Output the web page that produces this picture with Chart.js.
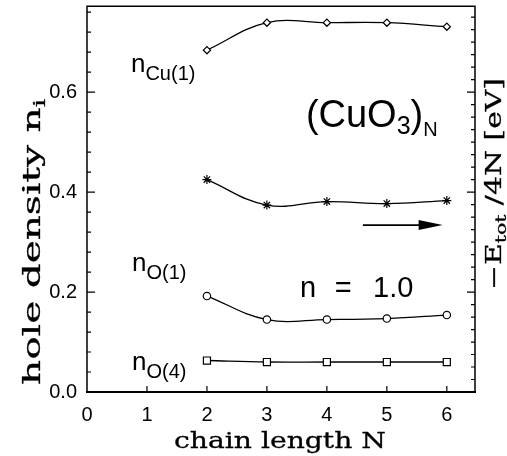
<!DOCTYPE html>
<html>
<head>
<meta charset="utf-8">
<title>hole density vs chain length</title>
<script src="https://cdn.jsdelivr.net/npm/chart.js@4.4.0/dist/chart.umd.min.js"></script>
<style>
html, body { margin: 0; padding: 0; background: #fff; }
#wrap { width: 507px; height: 456px; }
</style>
</head>
<body>
<div id="wrap"><canvas id="holeChart" width="507" height="456"></canvas></div>
<script>
// ---------- data ----------
const chainLength = [2, 3, 4, 5, 6];
const nCu1 = [0.684, 0.739, 0.739, 0.739, 0.731];
const energy = [0.425, 0.374, 0.381, 0.377, 0.383];   // drawn against the right axis
const nO1 = [0.192, 0.145, 0.145, 0.147, 0.154];
const nO4 = [0.063, 0.060, 0.060, 0.060, 0.060];

const xRange = [0, 6.47];
const yRange = [0, 0.772];
const yMajorStep = 0.2;
const yMinorStep = 0.04;
const rightMinorStep = 0.025;

const SANS = '"Liberation Sans", Arial, sans-serif';
const SERIF = '"DejaVu Serif", "Liberation Serif", serif';

function pts(ys) {
    return chainLength.map((x, i) => ({ x: x, y: ys[i] }));
}

function series(ys, style, radius, axis) {
    return {
        data: pts(ys),
        yAxisID: axis || 'y',
        borderColor: '#000',
        borderWidth: 1.3,
        tension: 0.4,
        pointStyle: style,
        pointRadius: radius,
        pointBorderWidth: 1.2,
        pointBorderColor: '#000',
        pointBackgroundColor: '#fff'
    };
}

// no extra room for edge labels, the plot box is fixed by the layout padding
function noPadding(s) {
    s.paddingTop = 0;
    s.paddingBottom = 0;
    s.paddingLeft = 0;
    s.paddingRight = 0;
}

// ---------- text helpers ----------
function runsWidth(ctx, runs) {
    let w = 0;
    runs.forEach(r => { ctx.font = r.font; w += ctx.measureText(r.text).width; });
    return w;
}

function drawRuns(ctx, x, y, runs, outline) {
    let cx = x;
    runs.forEach(r => {
        ctx.font = r.font;
        ctx.fillText(r.text, cx, y + (r.dy || 0));
        if (outline) ctx.strokeText(r.text, cx, y + (r.dy || 0));
        cx += ctx.measureText(r.text).width;
    });
}

// axis titles are stretched to a fixed length and slightly emboldened
function drawTitle(ctx, cx, cy, angle, length, runs) {
    const w = runsWidth(ctx, runs);
    ctx.save();
    ctx.translate(cx, cy);
    ctx.rotate(angle);
    ctx.scale(length / w, 1);
    ctx.lineWidth = 0.3;
    ctx.lineJoin = 'round';
    drawRuns(ctx, -w / 2, 0, runs, true);
    ctx.restore();
}

// ---------- frame, inward ticks, labels ----------
const framePlugin = {
    id: 'framePlugin',
    afterDraw(chart) {
        const { ctx, chartArea: a, scales } = chart;
        const xs = scales.x, ys = scales.y, y2 = scales.y2;

        ctx.save();
        ctx.strokeStyle = '#000';
        ctx.fillStyle = '#000';

        // box
        ctx.lineWidth = 1.5;
        ctx.beginPath();
        ctx.moveTo(a.left, a.bottom);
        ctx.lineTo(a.left, a.top);
        ctx.lineTo(a.right, a.top);
        ctx.lineTo(a.right, a.bottom);
        ctx.stroke();
        ctx.lineWidth = 2;
        ctx.beginPath();
        ctx.moveTo(a.left - 1, a.bottom);
        ctx.lineTo(a.right + 1, a.bottom);
        ctx.stroke();

        ctx.lineWidth = 1.2;
        ctx.beginPath();
        // bottom ticks
        for (let v = 1; v <= 6; v++) {
            const px = xs.getPixelForValue(v);
            ctx.moveTo(px, a.bottom);
            ctx.lineTo(px, a.bottom - 6);
        }
        // left ticks
        for (let k = 1; k * yMinorStep < yRange[1]; k++) {
            const v = k * yMinorStep;
            const major = Math.round(v * 1000) % Math.round(yMajorStep * 1000) === 0;
            const py = ys.getPixelForValue(v);
            ctx.moveTo(a.left, py);
            ctx.lineTo(a.left + (major ? 8 : 4), py);
        }
        // right ticks
        for (let k = 1; k * rightMinorStep < yRange[1]; k++) {
            const v = k * rightMinorStep;
            const major = Math.round(v * 1000) % Math.round(yMajorStep * 1000) === 0;
            const py = y2.getPixelForValue(v);
            ctx.moveTo(a.right, py);
            ctx.lineTo(a.right - (major ? 8 : 4), py);
        }
        ctx.stroke();

        // curve labels
        ctx.textAlign = 'left';
        ctx.textBaseline = 'alphabetic';
        const at = (x, y) => [xs.getPixelForValue(x), ys.getPixelForValue(y)];

        let p = at(0.733, 0.64);
        drawRuns(ctx, p[0], p[1], [
            { text: 'n', font: '26px ' + SANS },
            { text: 'Cu(1)', font: '20px ' + SANS, dy: 8 }
        ]);
        p = at(0.75, 0.242);
        drawRuns(ctx, p[0], p[1], [
            { text: 'n', font: '26px ' + SANS },
            { text: 'O(1)', font: '20px ' + SANS, dy: 8 }
        ]);
        p = at(0.75, 0.044);
        drawRuns(ctx, p[0], p[1], [
            { text: 'n', font: '26px ' + SANS },
            { text: 'O(4)', font: '20px ' + SANS, dy: 8 }
        ]);

        p = at(3.65, 0.53);
        drawRuns(ctx, p[0], p[1], [
            { text: '(CuO', font: '38px ' + SANS },
            { text: '3', font: '25px ' + SANS, dy: 7 },
            { text: ')', font: '38px ' + SANS },
            { text: 'N', font: '20px ' + SANS, dy: 9 }
        ]);

        p = at(3.55, 0.19);
        ctx.font = '29px ' + SANS;
        ctx.fillText('n', p[0], p[1]);
        ctx.fillText('=', xs.getPixelForValue(4.13), p[1]);
        ctx.fillText('1.0', xs.getPixelForValue(4.77), p[1]);

        // arrow pointing to the right axis
        const a0 = at(4.6, 0.334), a1 = at(5.93, 0.334);
        ctx.lineWidth = 1.6;
        ctx.beginPath();
        ctx.moveTo(a0[0], a0[1]);
        ctx.lineTo(a1[0] - 20, a1[1]);
        ctx.stroke();
        ctx.beginPath();
        ctx.moveTo(a1[0], a1[1]);
        ctx.lineTo(a1[0] - 24, a1[1] - 5);
        ctx.lineTo(a1[0] - 24, a1[1] + 5);
        ctx.closePath();
        ctx.fill();

        // axis titles
        drawTitle(ctx, 280, 448, 0, 212, [
            { text: 'chain length N', font: '23px ' + SERIF }
        ]);
        drawTitle(ctx, 40, 242, -Math.PI / 2, 286, [
            { text: 'hole density n', font: '24px ' + SERIF },
            { text: 'i', font: '16px ' + SERIF, dy: 5 }
        ]);
        drawTitle(ctx, 501, 184, -Math.PI / 2, 212, [
            { text: '\u2212E', font: '22px ' + SERIF },
            { text: 'tot', font: '15px ' + SERIF, dy: 5 },
            { text: ' /4N [eV]', font: '22px ' + SERIF }
        ]);

        ctx.restore();
    }
};

// ---------- chart ----------
new Chart(document.getElementById('holeChart'), {
    type: 'line',
    data: {
        datasets: [
            series(nCu1, 'rectRot', 3.6),
            series(energy, 'star', 4.5, 'y2'),
            series(nO1, 'circle', 3.7),
            series(nO4, 'rect', 5)
        ]
    },
    options: {
        responsive: false,
        animation: false,
        layout: { padding: { left: 0, right: 32, top: 6, bottom: 0 } },
        plugins: {
            legend: { display: false },
            tooltip: { enabled: false }
        },
        scales: {
            x: {
                type: 'linear',
                min: xRange[0],
                max: xRange[1],
                grid: { display: false, drawTicks: false },
                border: { display: false },
                afterFit: s => { s.height = 64; noPadding(s); },
                ticks: {
                    stepSize: 1,
                    includeBounds: false,
                    padding: 11,
                    color: '#000',
                    font: { family: SANS, size: 20 },
                    maxRotation: 0,
                    callback: v => v
                }
            },
            y: {
                position: 'left',
                min: yRange[0],
                max: yRange[1],
                grid: { display: false, drawTicks: false },
                border: { display: false },
                afterFit: s => { s.width = 87; noPadding(s); },
                ticks: {
                    stepSize: yMajorStep,
                    includeBounds: false,
                    padding: 10,
                    color: '#000',
                    font: { family: SANS, size: 20 },
                    callback: v => v.toFixed(1)
                }
            },
            y2: {
                position: 'right',
                min: yRange[0],
                max: yRange[1],
                grid: { display: false, drawTicks: false },
                border: { display: false },
                afterFit: s => { s.width = 0; noPadding(s); },
                ticks: { display: false }
            }
        }
    },
    plugins: [framePlugin]
});
</script>
</body>
</html>
